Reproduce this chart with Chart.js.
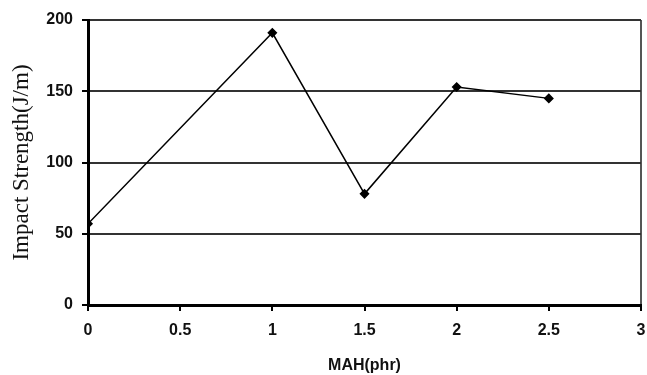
<!DOCTYPE html>
<html>
<head>
<meta charset="utf-8">
<script src="https://cdn.jsdelivr.net/npm/chart.js@4.4.0/dist/chart.umd.min.js"></script>
<style>
  html, body { margin: 0; padding: 0; background: #fff; }
  #wrap { width: 647px; height: 375px; position: relative; }
</style>
</head>
<body>
<div id="wrap"><canvas id="impactChart"></canvas></div>
<script>
// MAH content (phr) vs impact strength (J/m)
const mahPhr = [0, 1, 1.5, 2, 2.5];
const impactStrength = [57, 191, 78, 153, 145];
const yTicks = [0, 50, 100, 150, 200];
const xTicks = [0, 0.5, 1, 1.5, 2, 2.5, 3];

const tickFont = { family: 'Liberation Sans, Arial, sans-serif', size: 16, weight: 'bold' };

const ctx = document.getElementById('impactChart').getContext('2d');
new Chart(ctx, {
  type: 'line',
  data: {
    datasets: [{
      label: 'Impact Strength',
      data: mahPhr.map((x, i) => ({ x: x, y: impactStrength[i] })),
      borderColor: '#000',
      borderWidth: 1.5,
      pointStyle: 'rectRot',
      pointRadius: 4,
      pointBackgroundColor: '#000',
      pointBorderColor: '#000',
      tension: 0,
      fill: false
    }]
  },
  options: {
    responsive: true,
    maintainAspectRatio: false,
    animation: false,
    layout: { padding: { top: 20, right: 0, left: 0, bottom: 0 } },
    plugins: {
      legend: { display: false },
      tooltip: { enabled: false }
    },
    scales: {
      x: {
        type: 'linear',
        min: 0,
        max: 3,
        afterBuildTicks: (axis) => { axis.ticks = xTicks.map(v => ({ value: v })); },
        afterFit: (axis) => {
          axis.height = 70;
          // keep the plot reaching nearly the right edge, as in the reference
          axis.paddingRight = 6;
        },
        grid: {
          drawOnChartArea: true,
          color: (c) => (c.tick && c.tick.value === 3 ? '#555' : 'rgba(0,0,0,0)'),
          lineWidth: 2,
          tickColor: '#000',
          tickLength: 6,
          tickWidth: 2
        },
        border: { color: '#000', width: 3 },
        ticks: { color: '#111', font: tickFont, padding: 10, maxRotation: 0, callback: (v) => String(v) },
        title: {
          display: true,
          text: 'MAH(phr)',
          color: '#111',
          font: { family: 'Liberation Sans, Arial, sans-serif', size: 16, weight: 'bold' },
          padding: { top: 0, bottom: 0 }
        }
      },
      y: {
        min: 0,
        max: 200,
        afterBuildTicks: (axis) => { axis.ticks = yTicks.map(v => ({ value: v })); },
        afterFit: (axis) => { axis.width = 88; },
        grid: {
          color: '#333',
          lineWidth: 2,
          tickColor: '#000',
          tickLength: 6,
          tickWidth: 2
        },
        border: { color: '#000', width: 3 },
        ticks: { color: '#111', font: tickFont, padding: 9 },
        title: {
          display: true,
          text: 'Impact Strength(J/m)',
          color: '#111',
          font: { family: 'Liberation Serif, Times New Roman, serif', size: 23 },
          padding: { top: 8, bottom: 0 }
        }
      }
    }
  }
});
</script>
</body>
</html>
